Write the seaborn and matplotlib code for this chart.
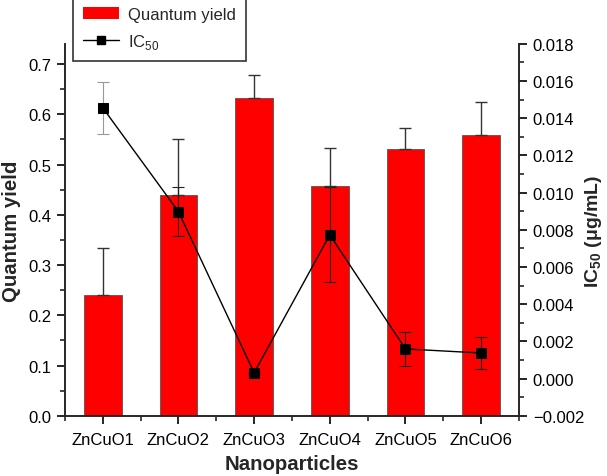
import numpy as np
import pandas as pd
import seaborn as sns
import matplotlib.pyplot as plt
from matplotlib.patches import Patch
from matplotlib.lines import Line2D
from matplotlib.ticker import MultipleLocator

# Data
samples = ['ZnCuO1', 'ZnCuO2', 'ZnCuO3', 'ZnCuO4', 'ZnCuO5', 'ZnCuO6']
qy = [0.240, 0.440, 0.632, 0.458, 0.531, 0.558]
qy_err = [0.093, 0.110, 0.046, 0.075, 0.041, 0.067]
ic50 = [0.01456, 0.00898, 0.00032, 0.00773, 0.00160, 0.00138]
ic50_err = [0.00141, 0.00130, 0.00005, 0.00255, 0.00093, 0.00087]

sns.set_style('ticks')
plt.rcParams['font.family'] = ['Liberation Sans', 'DejaVu Sans']
plt.rcParams['mathtext.fontset'] = 'custom'
plt.rcParams['mathtext.rm'] = 'Liberation Sans'
plt.rcParams['mathtext.bf'] = 'Liberation Sans:bold'

df = pd.DataFrame({'sample': samples, 'qy': qy})
x = np.arange(len(samples))

fig = plt.figure(figsize=(6.07, 4.77), dpi=100)
ax = fig.add_axes([0.107, 0.126, 0.748, 0.780])

sns.barplot(data=df, x='sample', y='qy', color='#ff0000', saturation=1,
            width=0.5, edgecolor='#555555', linewidth=0.6, ax=ax)
ax.errorbar(x, qy, yerr=[np.zeros(len(qy)), qy_err],
            fmt='none', ecolor='#333333', elinewidth=1, capsize=4, capthick=1)

ax2 = ax.twinx()
# first IC50 error bar is drawn lighter in the original
ax2.errorbar(x[:1], ic50[:1], yerr=ic50_err[:1], fmt='none',
             ecolor='#999999', elinewidth=0.8, capsize=4, capthick=0.8)
ax2.errorbar(x[1:], ic50[1:], yerr=ic50_err[1:], fmt='none',
             ecolor='#222222', elinewidth=0.8, capsize=4, capthick=0.8)
sns.lineplot(x=x, y=ic50, color='black', marker='s',
             markersize=7, markeredgecolor='black', linewidth=1, ax=ax2)

ax.set_xlim(-0.5, 5.5)
ax.set_ylim(0, 0.74)
ax2.set_ylim(-0.002, 0.018)
ax.yaxis.set_major_locator(MultipleLocator(0.1))
ax.yaxis.set_minor_locator(MultipleLocator(0.05))
ax2.yaxis.set_major_locator(MultipleLocator(0.002))
ax2.yaxis.set_minor_locator(MultipleLocator(0.001))
ax.set_xticks(x)
ax.set_xticklabels(samples)
ax.set_xticks(np.arange(-0.5, 6, 1), minor=True)
ax.yaxis.set_major_formatter(plt.FormatStrFormatter('%.1f'))
ax2.yaxis.set_major_formatter(plt.FuncFormatter(lambda v, p: ('%.3f' % v).replace('-', '\u2212')))

for a in (ax, ax2):
    a.tick_params(which='major', direction='out', length=6, width=1.2, labelsize=12,
                  colors='black', pad=4)
    a.tick_params(which='minor', direction='out', length=3.5, width=1.2)
    for s in a.spines.values():
        s.set_linewidth(1.2)
    a.spines['top'].set_visible(False)
ax.tick_params(axis='x', which='major', pad=5.5)

ax.set_xlabel('Nanoparticles', fontsize=14.7, fontweight='bold', labelpad=5)
ax.set_ylabel('Quantum yield', fontsize=14.7, fontweight='bold', labelpad=5)
ax2.set_ylabel(r'IC$_{\mathbf{50}}$ (μg/mL)', fontsize=14, fontweight='bold', labelpad=-1)

handles = [Patch(facecolor='#ff0000', edgecolor='none'),
           Line2D([], [], color='black', marker='s', markersize=6, linewidth=1)]
leg = fig.legend(handles, ['Quantum yield', r'IC$_{50}$'], loc='upper left',
                 bbox_to_anchor=(0.12, 1.005), borderaxespad=0, frameon=True,
                 fancybox=False, edgecolor='black', fontsize=12,
                 handlelength=2.15, handletextpad=0.55, borderpad=0.6,
                 labelspacing=0.6)
leg.get_frame().set_linewidth(1.2)

fig.savefig('out.png', dpi=100)
